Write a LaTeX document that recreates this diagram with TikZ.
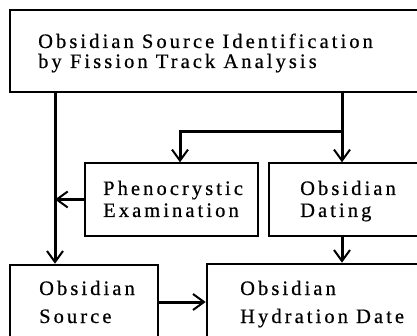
\documentclass[tikz,border=0pt]{standalone}
\usepackage{fontspec}
\setmainfont{Liberation Serif}
\newfontfamily\spaced[LetterSpace=15,FakeBold=0.6]{Liberation Serif}
\usetikzlibrary{arrows.meta,calc}
\begin{document}
\begin{tikzpicture}[x=1pt,y=1pt,
  box/.style={draw,line width=1.4pt,inner sep=0pt,rectangle},
  heavybox/.style={draw,line width=2.6pt,inner sep=0pt,rectangle},
  lbl/.style={anchor=base west,inner sep=0pt,font=\spaced\fontsize{20.5}{20}\selectfont,align=left},
  arr/.style={line width=3pt,-{Straight Barb[length=11pt,width=16pt,line width=2pt]}}]
\useasboundingbox (0,-336) rectangle (417,0);
\clip (0,-336) rectangle (417,0);
\node[box,minimum width=420pt,minimum height=82pt] (top) at (220,-51) {};
\node[box,minimum width=173pt,minimum height=73pt] (pheno) at (171.5,-199.5) {};
\node[box,minimum width=161pt,minimum height=73pt] (dating) at (349.5,-199.5) {};
\node[heavybox,minimum width=148pt,minimum height=80pt] (source) at (84,-305) {};
\node[heavybox,minimum width=223pt,minimum height=81pt] (hydr) at (318.5,-304.5) {};
\node[lbl] (t1) at (38,-48) {Obsidian Source Identification};
\node[lbl] (t2) at (38,-68) {by Fission Track Analysis};
\node[lbl] (p1) at (103,-195) {Phenocrystic};
\node[lbl] (p2) at (103,-217) {Examination};
\node[lbl] (d1) at (300,-195) {Obsidian};
\node[lbl] (d2) at (300,-217) {Dating};
\node[lbl] (s1) at (39,-295) {Obsidian};
\node[lbl] (s2) at (39,-323) {Source};
\node[lbl] (h1) at (240,-295) {Obsidian};
\node[lbl] (h2) at (240,-323) {Hydration Date};
\coordinate (xl) at (55,0);
\coordinate (xr) at (342,0);
\coordinate (xp) at (180,0);
\coordinate (br) at (342,-132);
\coordinate (ys) at (0,-302);
\draw[arr] (top.south -| xl) -- (source.north -| xl);
\draw[arr] (top.south -| xr) -- (dating.north -| xr);
\draw[arr] (br) -| (pheno.north -| xp);
\draw[arr] (pheno.west) -- (pheno.west -| xl);
\draw[arr] (dating.south -| xr) -- (hydr.north -| xr);
\draw[arr] (source.east |- ys) -- (hydr.west |- ys);
\end{tikzpicture}
\end{document}
